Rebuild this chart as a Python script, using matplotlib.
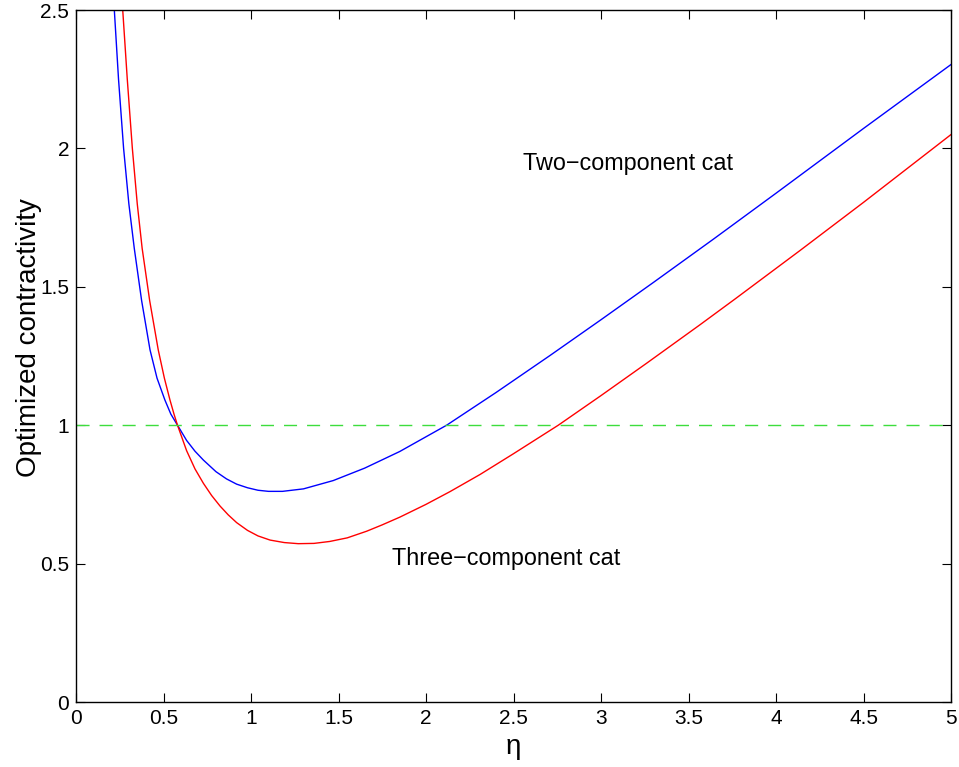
import matplotlib
matplotlib.use("Agg")
import matplotlib.pyplot as plt

plt.rcParams['font.family'] = ['Liberation Sans', 'DejaVu Sans']

# Two-component cat (blue)
eta_two = [0.219, 0.243, 0.272, 0.302, 0.333, 0.375, 0.423, 0.463, 0.508, 0.542,
           0.580, 0.632, 0.680, 0.728, 0.800, 0.860, 0.918, 0.980, 1.040, 1.100,
           1.180, 1.300, 1.470, 1.650, 1.850, 2.118, 2.400, 2.709, 3.000, 3.300,
           3.642, 4.000, 4.500, 5.000]
val_two = [2.50, 2.25, 2.00, 1.80, 1.639, 1.45, 1.272, 1.17, 1.091, 1.04,
           1.00, 0.945, 0.906, 0.874, 0.832, 0.806, 0.787, 0.774, 0.765, 0.761,
           0.761, 0.770, 0.800, 0.845, 0.905, 1.000, 1.118, 1.252, 1.381, 1.516,
           1.672, 1.838, 2.072, 2.303]

# Three-component cat (red)
eta_three = [0.267, 0.293, 0.322, 0.350, 0.378, 0.421, 0.470, 0.505, 0.537, 0.560,
             0.580, 0.632, 0.680, 0.728, 0.775, 0.823, 0.870, 0.918, 0.980, 1.040,
             1.109, 1.190, 1.270, 1.360, 1.450, 1.550, 1.661, 1.750, 1.851, 2.000,
             2.137, 2.309, 2.500, 2.756, 3.000, 3.261, 3.566, 3.766, 4.137, 4.500,
             5.000]
val_three = [2.50, 2.25, 2.00, 1.80, 1.639, 1.45, 1.272, 1.17, 1.091, 1.04,
             1.00, 0.908, 0.842, 0.790, 0.746, 0.708, 0.676, 0.648, 0.620, 0.600,
             0.585, 0.576, 0.572, 0.573, 0.580, 0.593, 0.617, 0.640, 0.668, 0.714,
             0.760, 0.822, 0.897, 1.000, 1.107, 1.224, 1.363, 1.456, 1.631, 1.805,
             2.050]

threshold = 1.0
xticks = [0, 0.5, 1, 1.5, 2, 2.5, 3, 3.5, 4, 4.5, 5]
xticklabels = ['0', '0.5', '1', '1.5', '2', '2.5', '3', '3.5', '4', '4.5', '5']
yticks = [0, 0.5, 1, 1.5, 2, 2.5]
yticklabels = ['0', '0.5', '1', '1.5', '2', '2.5']

fig = plt.figure(figsize=(9.59, 7.67), dpi=100)
ax = fig.add_axes([76/959, 1-702/767, (951-76)/959, (702-10)/767])

ax.plot(eta_two, val_two, color='#0000ff', lw=1.0)
ax.plot(eta_three, val_three, color='#ff0000', lw=1.0)
ax.plot([0, 5], [threshold, threshold], color='#3ddd3d', lw=1.0, dashes=(9.4, 7.2))

ax.set_xlim(0, 5)
ax.set_ylim(0, 2.5)
ax.set_xticks(xticks)
ax.set_xticklabels(xticklabels)
ax.set_yticks(yticks)
ax.set_yticklabels(yticklabels)
ax.tick_params(direction='in', length=6.5, width=0.8, top=True, right=True,
               labelsize=15, pad=5)
for s in ax.spines.values():
    s.set_linewidth(1.0)

ax.text(2.554, 1.946, 'Two\u2212component cat', fontsize=16.8, ha='left', va='center')
ax.text(1.804, 0.520, 'Three\u2212component cat', fontsize=16.8, ha='left', va='center')

ax.set_xlabel('\u03b7', fontsize=20)
ax.set_ylabel('Optimized contractivity', fontsize=20)
ax.yaxis.set_label_coords(-0.039, 0.527)

fig.savefig('out.png', dpi=100)
